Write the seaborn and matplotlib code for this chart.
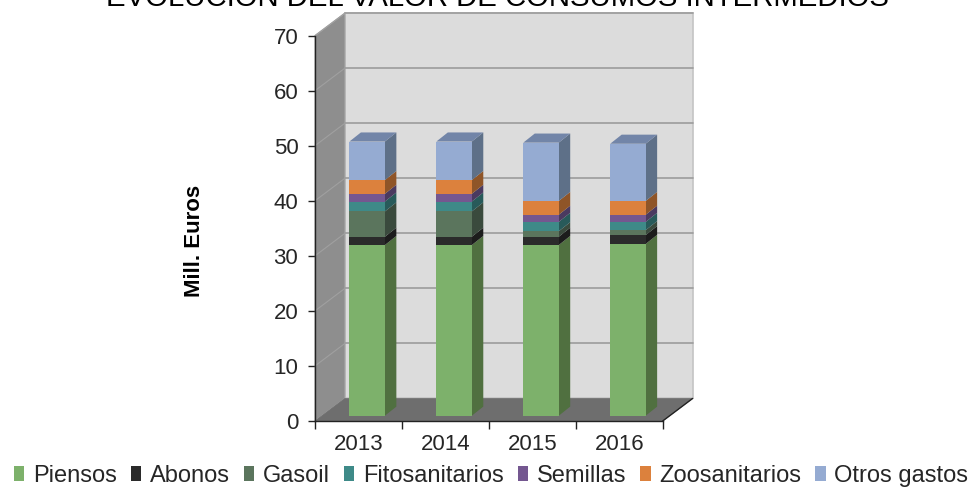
import numpy as np
import pandas as pd
import seaborn as sns
import matplotlib.pyplot as plt

years = [2013, 2014, 2015, 2016]
piensos = [31.0, 31.0, 31.0, 31.2]
abonos = [1.5, 1.5, 1.5, 1.6]
gasoil = [4.6, 4.6, 1.0, 0.9]
fitosanitarios = [1.8, 1.8, 1.7, 1.5]
semillas = [1.4, 1.4, 1.3, 1.3]
zoosanitarios = [2.5, 2.5, 2.5, 2.5]
otros_gastos = [7.0, 7.0, 10.6, 10.4]

series_names = ['Piensos', 'Abonos', 'Gasoil', 'Fitosanitarios', 'Semillas', 'Zoosanitarios', 'Otros gastos']
series_values = [piensos, abonos, gasoil, fitosanitarios, semillas, zoosanitarios, otros_gastos]
front_colors = ['#7DB16B', '#2B2B2B', '#5B755D', '#3E8A88', '#745790', '#DC813D', '#95ABD2']
side_colors = ['#507040', '#1C1C1C', '#3A4A3D', '#285A5A', '#4A3A60', '#8F5528', '#5E7088']

# depth of the fake 3d box, in data units (1 year wide, 1 Mill. Euro high)
WALL_DX, WALL_DY = 0.345, 4.1
BAR_DX, BAR_DY = 0.132, 1.65
BAR_SHIFT_X, BAR_SHIFT_Y = 0.1, 0.96
BAR_WIDTH = 0.408

sns.set_theme(style='white')
plt.rcParams['font.family'] = ['Liberation Sans', 'DejaVu Sans']

fig = plt.figure(figsize=(9.75, 4.88), dpi=100)
ax = fig.add_axes([315 / 975, 1 - 421 / 488, 347.7 / 975, 385.4 / 488])
ax.patch.set_visible(False)
x_lo, x_hi = years[0] - 0.5, years[-1] + 0.5

# walls and floor
ax.fill([x_lo + WALL_DX, x_hi + WALL_DX, x_hi + WALL_DX, x_lo + WALL_DX],
        [WALL_DY, WALL_DY, 70 + WALL_DY, 70 + WALL_DY],
        facecolor='#DCDCDC', edgecolor='#C4C4C4', lw=1.2, clip_on=False, zorder=0)
ax.fill([x_lo, x_lo + WALL_DX, x_lo + WALL_DX, x_lo], [0, WALL_DY, 70 + WALL_DY, 70],
        facecolor='#8E8E8E', edgecolor='#A8A8A8', lw=0.8, clip_on=False, zorder=0.5)
ax.fill([x_lo, x_hi, x_hi + WALL_DX, x_lo + WALL_DX], [0, 0, WALL_DY, WALL_DY],
        facecolor='#6E6E6E', edgecolor='#6E6E6E', lw=0.5, clip_on=False, zorder=0.6)
for v in range(10, 80, 10):
    ax.plot([x_lo + WALL_DX, x_hi + WALL_DX], [v + WALL_DY, v + WALL_DY],
            color='#9C9C9C', lw=1.2, clip_on=False, zorder=0.7)
    ax.plot([x_lo, x_lo + WALL_DX], [v, v + WALL_DY],
            color='#A0A0A0', lw=0.8, clip_on=False, zorder=0.7)
ax.plot([x_hi, x_hi + WALL_DX], [0, WALL_DY], color='#222222', lw=1, clip_on=False, zorder=0.8)

# front faces of the stacked bars
bar_x = np.array(years) + BAR_SHIFT_X
bottom = np.full(len(years), BAR_SHIFT_Y)
for name, values, color, side in zip(series_names, series_values, front_colors, side_colors):
    df = pd.DataFrame({'year': bar_x, 'value': values})
    sns.barplot(data=df, x='year', y='value', native_scale=True, color=color, saturation=1,
                width=BAR_WIDTH, bottom=bottom, label=name, errorbar=None, ax=ax,
                linewidth=0, zorder=2)
    for xc, b, h in zip(bar_x, bottom, values):
        xr = xc + BAR_WIDTH / 2
        ax.fill([xr, xr + BAR_DX, xr + BAR_DX, xr],
                [b, b + BAR_DY, b + h + BAR_DY, b + h],
                facecolor=side, edgecolor='none', zorder=1.8)
    bottom = bottom + np.array(values)

# top caps
for xc, b in zip(bar_x, bottom):
    xl = xc - BAR_WIDTH / 2
    ax.fill([xl, xl + BAR_WIDTH, xl + BAR_WIDTH + BAR_DX, xl + BAR_DX],
            [b, b, b + BAR_DY, b + BAR_DY],
            facecolor='#7285A8', edgecolor='none', zorder=1.8)

ax.set_xlim(x_lo, x_hi)
ax.set_ylim(0, 70)
ax.set_yticks(range(0, 80, 10))
ax.set_xticks(np.arange(x_lo, x_hi + 0.5, 1))
ax.set_xticklabels([])
ax.set_xticks(years, minor=True)
ax.set_xticklabels([str(y) for y in years], minor=True)
ax.tick_params(axis='x', which='major', length=6, width=1, color='#222222', bottom=True)
ax.tick_params(axis='x', which='minor', length=0, labelsize=16, labelcolor='#262626', pad=9.5)
ax.tick_params(axis='y', length=5, width=1, color='#222222', left=True, labelsize=16,
               labelcolor='#262626', pad=7)
ax.set_xlabel('')
ax.set_ylabel('')
sns.despine(ax=ax)
for s in ['left', 'bottom']:
    ax.spines[s].set_color('#222222')
    ax.spines[s].set_linewidth(1)
    ax.spines[s].set_zorder(3)

fig.text(195 / 975, 1 - 241 / 488, 'Mill. Euros', rotation=90, ha='center', va='center',
         fontsize=16, fontweight='bold', color='black')
fig.text(497.5 / 975, 1 - 6 / 488, 'EVOLUCIÓN DEL VALOR DE CONSUMOS INTERMEDIOS', ha='center',
         va='baseline', fontsize=21.2, color='black')

handles, labels = ax.get_legend_handles_labels()
ax.get_legend().remove()
fig.legend(handles, labels, ncol=7, loc='center', bbox_to_anchor=(491 / 975, 1 - 476 / 488),
           frameon=False, fontsize=17, handlelength=0.45, handleheight=0.6, handletextpad=0.35,
           columnspacing=0.6, labelcolor='#262626', borderpad=0, borderaxespad=0)

fig.savefig('out.png', dpi=100)
